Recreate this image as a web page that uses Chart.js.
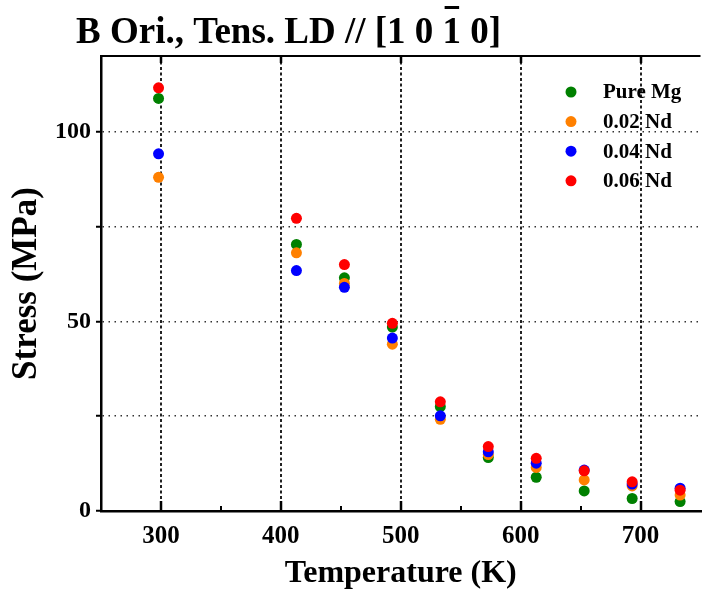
<!DOCTYPE html>
<html>
<head>
<meta charset="utf-8">
<title>Stress vs Temperature</title>
<script src="https://cdn.jsdelivr.net/npm/chart.js@4.4.0/dist/chart.umd.min.js"></script>
<style>
  html, body { margin: 0; padding: 0; background: #fff; overflow: hidden; }
  #wrap { width: 702px; height: 592px; overflow: hidden; }
</style>
</head>
<body>
<div id="wrap"><canvas id="stressChart" width="706" height="592"></canvas></div>
<script>
// Test temperatures (K) and flow stress (MPa) per alloy
const temperatures = [298, 413, 453, 493, 533, 573, 613, 653, 693, 733];
const pureMg = [108.8, 70.3, 61.5, 48.5, 27.5, 14.1, 8.9, 5.3, 3.3, 2.5];
const nd002 = [88.0, 68.1, 60.0, 44.0, 24.2, 14.9, 11.5, 8.2, 6.6, 4.2];
const nd004 = [94.2, 63.4, 59.0, 45.6, 25.1, 15.6, 12.6, 10.8, 7.1, 6.0];
const nd006 = [111.6, 77.2, 65.0, 49.5, 28.8, 17.0, 13.9, 10.6, 7.7, 5.5];

const seriesNames = ['Pure Mg', '0.02 Nd', '0.04 Nd', '0.06 Nd'];
const seriesColors = ['#008000', '#ff8000', '#0000ff', '#ff0000'];

const xTicks = [300, 400, 500, 600, 700];
const xMinorTicks = [350, 450, 550, 650];
const yTicks = [0, 25, 50, 75, 100];
const yLabeled = [0, 50, 100];

const SERIF = '"Liberation Serif", "Times New Roman", serif';

const toPoints = (ys) => temperatures.map((t, i) => ({ x: t, y: ys[i] }));

// frame, inward ticks, title and legend drawn on top of the chart
const framePlugin = {
  id: 'frame',
  afterDraw(chart) {
    const { ctx, chartArea: area, scales } = chart;
    const x = scales.x;
    ctx.save();
    ctx.strokeStyle = '#000';
    ctx.setLineDash([]);

    // top border
    ctx.lineWidth = 2;
    ctx.beginPath();
    ctx.moveTo(area.left, area.top);
    ctx.lineTo(area.right, area.top);
    ctx.stroke();

    // ticks pointing into the plot
    const tick = (v, len, width) => {
      const px = Math.round(x.getPixelForValue(v));
      ctx.lineWidth = width;
      ctx.beginPath();
      ctx.moveTo(px, area.bottom);
      ctx.lineTo(px, area.bottom - len);
      ctx.moveTo(px, area.top);
      ctx.lineTo(px, area.top + len * 0.7);
      ctx.stroke();
    };
    xTicks.forEach(v => tick(v, 10, 2.5));
    xMinorTicks.forEach(v => {
      const px = Math.round(x.getPixelForValue(v));
      ctx.lineWidth = 2;
      ctx.beginPath();
      ctx.moveTo(px, area.bottom);
      ctx.lineTo(px, area.bottom - 5);
      ctx.stroke();
    });

    // title with overbar on the third index
    ctx.fillStyle = '#000';
    ctx.font = 'bold 37px ' + SERIF;
    ctx.textBaseline = 'alphabetic';
    ctx.textAlign = 'left';
    const head = 'B Ori., Tens. LD // [1 0 ';
    const bar = '1';
    const tail = ' 0]';
    const tx = 76, ty = 43;
    ctx.fillText(head + bar + tail, tx, ty);
    const bx = tx + ctx.measureText(head).width;
    const bw = ctx.measureText(bar).width;
    ctx.fillRect(bx + 2, 6, bw - 4, 3);

    // legend inside the plot
    ctx.font = 'bold 21px ' + SERIF;
    ctx.textBaseline = 'middle';
    chart.data.datasets.forEach((ds, i) => {
      const cy = 92 + i * 29.6;
      ctx.fillStyle = ds.backgroundColor;
      ctx.beginPath();
      ctx.arc(571, cy, 5.5, 0, Math.PI * 2);
      ctx.fill();
      ctx.fillStyle = '#000';
      ctx.fillText(ds.label, 603, cy + 1);
    });
    ctx.restore();
  }
};

const seriesValues = [pureMg, nd002, nd004, nd006];

new Chart(document.getElementById('stressChart'), {
  type: 'scatter',
  data: {
    datasets: seriesValues.map((vals, i) => ({
      label: seriesNames[i],
      data: toPoints(vals),
      backgroundColor: seriesColors[i],
      borderColor: seriesColors[i],
      borderWidth: 0,
      pointRadius: 5.5,
      pointHoverRadius: 5.5,
      order: seriesValues.length - 1 - i
    }))
  },
  options: {
    responsive: false,
    devicePixelRatio: 1,
    animation: false,
    layout: { padding: { top: 56, right: 2, bottom: 0, left: 0 } },
    plugins: {
      legend: { display: false },
      tooltip: { enabled: false }
    },
    scales: {
      x: {
        type: 'linear',
        min: 250,
        max: 750,
        afterBuildTicks: (s) => { s.ticks = xTicks.map(v => ({ value: v })); },
        afterFit: (s) => { s.height = 81; },
        grid: {
          color: '#222',
          lineWidth: 2,
          drawTicks: false
        },
        border: { display: true, color: '#000', width: 2.5, dash: [3, 2.5] },
        ticks: {
          color: '#000',
          padding: 11,
          font: { family: SERIF, size: 25, weight: 'bold' }
        },
        title: {
          display: true,
          text: 'Temperature (K)',
          color: '#000',
          padding: { top: 0, bottom: -1 },
          font: { family: SERIF, size: 32, weight: 'bold' }
        }
      },
      y: {
        type: 'linear',
        min: 0,
        max: 120,
        afterBuildTicks: (s) => { s.ticks = yTicks.map(v => ({ value: v })); },
        afterFit: (s) => { s.width = 101; },
        grid: {
          color: '#333',
          lineWidth: 1.5,
          drawTicks: true,
          tickLength: 5,
          tickColor: '#000',
          tickWidth: 2,
          tickBorderDash: []
        },
        border: { display: true, color: '#000', width: 2.5, dash: [1.5, 4.5] },
        ticks: {
          color: '#000',
          padding: 5,
          font: { family: SERIF, size: 24, weight: 'bold' },
          callback: (value) => (yLabeled.includes(value) ? value : '')
        },
        title: {
          display: true,
          text: 'Stress (MPa)',
          color: '#000',
          padding: { top: 6, bottom: 0 },
          font: { family: SERIF, size: 35, weight: 'bold' }
        }
      }
    }
  },
  plugins: [framePlugin]
});
</script>
</body>
</html>
